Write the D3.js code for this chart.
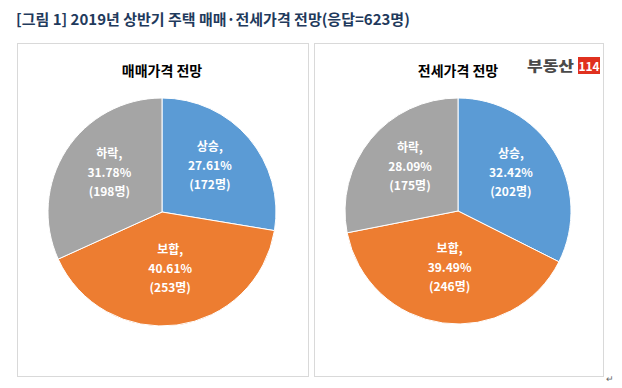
<!DOCTYPE html>
<html>
<head>
<meta charset="utf-8">
<script src="https://cdn.jsdelivr.net/npm/d3@7"></script>
<style>
  body { margin: 0; background: #fff; }
  svg { display: block; font-family: "Noto Sans CJK KR", "Noto Sans", sans-serif; }
</style>
</head>
<body>
<svg id="chart" width="622" height="388"></svg>
<script>
// data
const categories = ["상승", "보합", "하락"]
const salePct = [27.61, 40.61, 31.78]
const saleCount = [172, 253, 198]
const jeonsePct = [32.42, 39.49, 28.09]
const jeonseCount = [202, 246, 175]
const panelTitles = ["매매가격 전망", "전세가격 전망"]

const colors = d3.scaleOrdinal().domain(categories).range(["#5b9bd5", "#ed7d31", "#a5a5a5"])

const svg = d3.select("#chart")

svg.append("text")
    .attr("x", 16).attr("y", 25)
    .attr("font-size", 15).attr("font-weight", "bold")
    .attr("fill", "#1f3a5c")
    .text("[그림 1] 2019년 상반기 주택 매매·전세가격 전망(응답=623명)")

const panels = [
    { x: 17, w: 291, cx: 162, cy: 212, r: 114, pct: salePct, cnt: saleCount, title: panelTitles[0] },
    { x: 314, w: 289, cx: 458, cy: 211, r: 113, pct: jeonsePct, cnt: jeonseCount, title: panelTitles[1] }
]

const pie = d3.pie().sort(null).value(d => d.pct)

panels.forEach(p => {
    svg.append("rect")
        .attr("x", p.x + 0.5).attr("y", 43.5)
        .attr("width", p.w).attr("height", 333)
        .attr("fill", "#fff").attr("stroke", "#d9d9d9")

    svg.append("text")
        .attr("x", p.cx).attr("y", 76)
        .attr("text-anchor", "middle")
        .attr("font-size", 14).attr("font-weight", "bold").attr("fill", "#000")
        .text(p.title)

    const data = categories.map((c, i) => ({ cat: c, pct: p.pct[i], cnt: p.cnt[i] }))
    const arc = d3.arc().innerRadius(0).outerRadius(p.r)
    const labelArc = d3.arc().innerRadius(p.r * 0.55).outerRadius(p.r * 0.55)

    const g = svg.append("g").attr("transform", `translate(${p.cx},${p.cy})`)
    const arcs = g.selectAll("g.slice").data(pie(data)).enter().append("g").attr("class", "slice")

    arcs.append("path")
        .attr("d", arc)
        .attr("fill", d => colors(d.data.cat))
        .attr("stroke", "#fff").attr("stroke-width", 1)

    arcs.each(function(d) {
        const [lx, ly] = labelArc.centroid(d)
        const t = d3.select(this).append("text")
            .attr("text-anchor", "middle")
            .attr("font-size", 12).attr("font-weight", "bold").attr("fill", "#fff")
        const lines = [d.data.cat + ",", d.data.pct.toFixed(2) + "%", "(" + d.data.cnt + "명)"]
        lines.forEach((s, i) => {
            t.append("tspan").attr("x", lx).attr("y", ly - 20 + i * 19).text(s)
        })
    })
})

// logo
const logo = svg.append("g").attr("transform", "translate(527,57)")
logo.append("text")
    .attr("x", 0).attr("y", 14)
    .attr("font-size", 14).attr("font-weight", "900").attr("fill", "#4a4a4a")
    .attr("textLength", 47).attr("lengthAdjust", "spacingAndGlyphs")
    .text("부동산")
logo.append("rect")
    .attr("x", 51).attr("y", 0).attr("width", 22).attr("height", 17)
    .attr("fill", "#e0311f")
logo.append("text")
    .attr("x", 62).attr("y", 13.5).attr("text-anchor", "middle")
    .attr("font-size", 12).attr("font-weight", "bold").attr("fill", "#fff")
    .text("114")

svg.append("text")
    .attr("x", 606).attr("y", 382)
    .attr("font-size", 9).attr("fill", "#666")
    .text("↵")
</script>
</body>
</html>
